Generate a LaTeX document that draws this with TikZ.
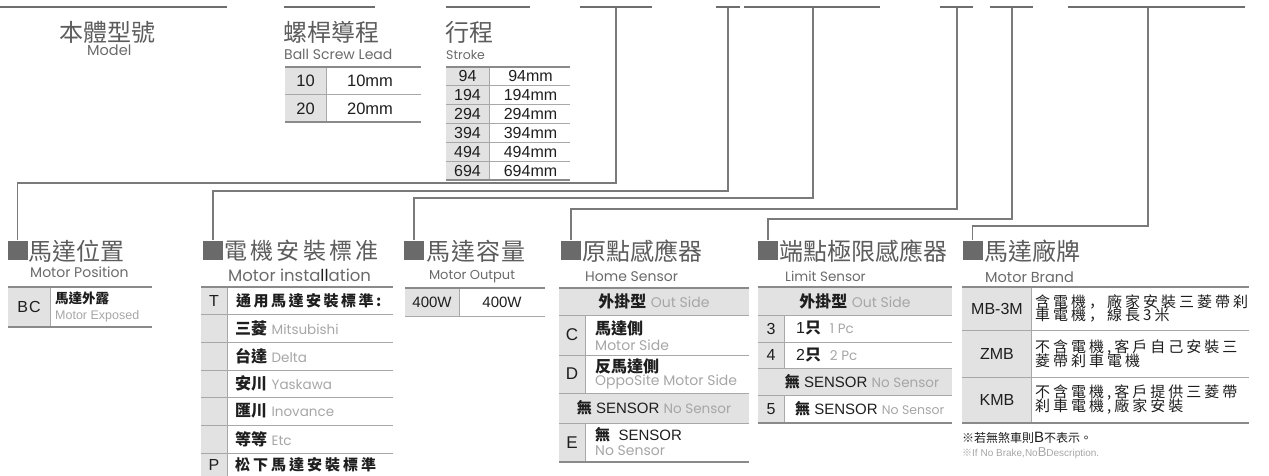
\documentclass[tikz,border=0pt]{standalone}
\usepackage{fontspec}
\setmainfont{Liberation Sans}
\newfontfamily\cjk{Noto Sans CJK TC}
\newfontfamily\cjksc{Noto Sans CJK SC}
\newfontfamily\eng{Poppins}
\definecolor{segc}{HTML}{6E6E6E}
\definecolor{connc}{HTML}{7A7A7A}
\definecolor{markc}{HTML}{6A6A6A}
\definecolor{ttlc}{HTML}{5C5C5C}
\definecolor{subc}{HTML}{6A6A6A}
\definecolor{cellc}{HTML}{E2E2E2}
\definecolor{tlc}{HTML}{8A8A8A}
\definecolor{rlc}{HTML}{A8A8A8}
\definecolor{txc}{HTML}{1E1E1E}
\definecolor{lgc}{HTML}{A6A6A6}
\newcommand\fs[1]{\fontsize{#1}{#1}\selectfont}
\newcommand\zh[1]{{\cjk\bfseries #1}}
\newcommand\lt[1]{{\eng\color{lgc}#1}}
\newcommand\cm{{\cjksc ，}}
\newdimen\lsp
\def\spc#1#2{{\lsp=#1pt\spcx#2\relax}}
\def\spcx#1{\ifx#1\relax\else#1\kern\lsp\expandafter\spcx\fi}
\begin{document}
\begin{tikzpicture}[x=1pt,y=-1pt,
 seg/.style={line width=2.4pt,draw=segc},
 conn/.style={line width=1.1pt,draw=connc},
 markbox/.style={fill=markc,minimum width=20pt,minimum height=19pt,inner sep=0},
 ttl/.style={anchor=west,inner sep=0,text=ttlc,font=\cjk\fs{24}},
 sub/.style={anchor=west,inner sep=0,text=subc,font=\eng\fs{14}},
 tl/.style={line width=2pt,draw=tlc},
 rl/.style={line width=1pt,draw=rlc},
 tx/.style={inner sep=0,text=txc},
 txw/.style={inner sep=0,text=txc,anchor=west},
]
\useasboundingbox (0,0) rectangle (1269,476);

% ---------- top segments ----------
\draw[seg] (0,7) -- (227,7);
\draw[seg] (284,7) -- (375,7);
\draw[seg] (446,7) -- (530,7);
\draw[seg] (580,7) -- (652,7);
\draw[seg] (716,7) -- (740,7);
\draw[seg] (744,7) -- (880,7);
\draw[seg] (940,7) -- (973,7);
\draw[seg] (990,7) -- (1033,7);
\draw[seg] (1068,7) -- (1245,7);

\coordinate (c1) at (616,8);
\coordinate (c2) at (728,8);
\coordinate (c3) at (813,8);
\coordinate (c4) at (957,8);
\coordinate (c5) at (1012,8);
\coordinate (c6) at (1148,8);
\coordinate (j1) at (616,183);
\coordinate (j2) at (728,191);
\coordinate (j3) at (813,198);
\coordinate (j4) at (957,209);
\coordinate (j5) at (1012,219);
\coordinate (j6) at (1148,226);

% ---------- top titles ----------
\node[inner sep=0,text=ttlc,font=\cjk\fs{24}] (tModel) at (107.5,32) {本體型號};
\node[sub,font=\eng\fs{14.5}] (sModel) at (87,50) {Model};
\node[ttl] (tLead) at (283,32) {螺桿導程};
\node[sub] (sLead) at (284,54) {Ball Screw Lead};
\node[ttl] (tStroke) at (445,32) {行程};
\node[sub,font=\eng\fs{12.5}] (sStroke) at (446,55) {Stroke};

% lead table
\fill[cellc] (285,67) rectangle (326,122);
\draw[rl] (326,67) -- (326,122);
\draw[rl] (285,95) -- (421,95);
\draw[tl] (285,67) -- (421,67);
\draw[tl] (285,122) -- (421,122);
\node[tx,font=\fs{16.5}] (l1a) at (305.5,81) {10};
\node[tx,font=\fs{16.5}] (l1b) at (370,81) {10mm};
\node[tx,font=\fs{16.5}] (l2a) at (305.5,108.5) {20};
\node[tx,font=\fs{16.5}] (l2b) at (370,108.5) {20mm};

% stroke table
\fill[cellc] (446,67) rectangle (489,180);
\draw[rl] (489,67) -- (489,180);
\foreach \k in {1,...,5}{\draw[rl] (446,67+18.83*\k) -- (570,67+18.83*\k);}
\draw[tl] (446,67) -- (570,67);
\draw[tl] (446,180) -- (570,180);
\foreach \v [count=\k from 0] in {94,194,294,394,494,694}{
  \node[tx,font=\fs{16}] (sa\v) at (467.5,76.4+18.83*\k) {\v};
  \node[tx,font=\fs{16}] (sb\v) at (530.5,76.4+18.83*\k) {\v mm};
}

% ---------- section markers and titles ----------
\node[markbox] (m1) at (17.5,250) {};
\node[ttl] (t1) at (28.5,251) {馬達位置};
\node[sub] (s1) at (30,272) {Motor Position};

\node[markbox] (m2) at (213,250) {};
\node[ttl,font=\cjk\fs{23}] (t2) at (224,251) {\spc{3.3}{電機安裝標准}};
\node[sub,font=\eng\fs{16.5}] (s2) at (228,275) {Motor insta{\color{txc}ll}ation};

\node[markbox] (m3) at (414,250) {};
\node[ttl] (t3) at (426,251) {\spc{1.2}{馬達容量}};
\node[inner sep=0,text=subc,font=\eng\fs{13}] (s3) at (472,277) {Motor Output};

\node[markbox] (m4) at (571,250) {};
\node[ttl] (t4) at (582,251) {原點感應器};
\node[sub] (s4) at (585,277) {Home Sensor};

\node[markbox] (m5) at (768,250) {};
\node[ttl] (t5) at (779,251) {端點極限感應器};
\node[sub,font=\eng\fs{13.5}] (s5) at (785,276) {Limit Sensor};

\node[markbox] (m6) at (972.5,250) {};
\node[ttl] (t6) at (984,251) {馬達廠牌};
\node[sub,font=\eng\fs{14.5}] (s6) at (985,277) {Motor Brand};

% ---------- connectors ----------
\draw[conn] (c1) -- (j1) -| (m1.north);
\draw[conn] (c2) -- (j2) -| (m2.north);
\draw[conn] (c3) -- (j3) -| (m3.north);
\draw[conn] (c4) -- (j4) -| (m4.north);
\draw[conn] (c5) -- (j5) -| (m5.north);
\draw[conn] (c6) -- (j6) -| (m6.north);

% ---------- motor position table ----------
\fill[cellc] (8,287) rectangle (50,327);
\draw[rl] (50,287) -- (50,327);
\draw[tl] (8,287) -- (152,287);
\draw[tl] (8,327) -- (152,327);
\node[tx,font=\fs{16}] (bc) at (29,307) {B\kern1ptC};
\node[txw,font=\fs{13.5}] (bcz) at (55,298) {\zh{馬達外露}};
\node[txw,font=\fs{12.5},text=lgc] (bce) at (55,316) {Motor Exposed};

% ---------- motor installation table ----------
\fill[cellc] (201,287) rectangle (227,476);
\draw[rl] (227,287) -- (227,476);
\draw[tl] (201,287) -- (393,287);
\foreach \yy in {314,342,370,397,425,453}{\draw[rl] (201,\yy) -- (393,\yy);}
\node[tx,font=\fs{16}] (iT) at (214,301) {T};
\node[txw,font=\fs{15}] (iTz) at (236,301) {\zh{\spc{2.5}{通用馬達安裝標準:}}};
\node[txw,font=\fs{16}] (i1) at (235,328) {\zh{三菱} \lt{\fs{13.5}Mitsubishi}};
\node[txw,font=\fs{16}] (i2) at (235,356) {\zh{台達} \lt{\fs{13.5}Delta}};
\node[txw,font=\fs{16}] (i3) at (235,383.5) {\zh{安川} \lt{\fs{13.5}Yaskawa}};
\node[txw,font=\fs{16}] (i4) at (235,411) {\zh{匯川} \lt{\fs{13.5}Inovance}};
\node[txw,font=\fs{16}] (i5) at (235,439) {\zh{等等} \lt{\fs{13.5}Etc}};
\node[tx,font=\fs{16}] (iP) at (214,465) {P};
\node[txw,font=\fs{15}] (iPz) at (235,465) {\zh{\spc{3}{松下馬達安裝標準}}};

% ---------- motor output table ----------
\fill[cellc] (405,288) rectangle (459,316);
\draw[rl] (459,288) -- (459,316);
\draw[tl] (405,288) -- (545,288);
\draw[rl] (405,316) -- (545,316);
\node[tx,font=\fs{15}] (oa) at (432,302) {400W};
\node[tx,font=\fs{15}] (ob) at (502,302) {400W};

% ---------- home sensor table ----------
\fill[cellc] (559,288) rectangle (749,315);
\fill[cellc] (559,315) rectangle (585,393);
\fill[cellc] (559,393) rectangle (749,423);
\fill[cellc] (559,423) rectangle (585,462);
\draw[rl] (585,315) -- (585,393);
\draw[rl] (585,423) -- (585,462);
\draw[tl] (559,288) -- (749,288);
\foreach \yy in {315,355,393,423}{\draw[rl] (559,\yy) -- (749,\yy);}
\draw[tl] (559,462) -- (749,462);
\node[tx,font=\fs{16}] (hh) at (654,301) {\zh{外掛型} \lt{\fs{14}Out Side}};
\node[tx,font=\fs{17}] (hC) at (572,335) {C};
\node[txw,font=\fs{16}] (hCz) at (595,328) {\zh{馬達側}};
\node[txw] (hCe) at (595,345) {\lt{\fs{14}Motor Side}};
\node[tx,font=\fs{17}] (hD) at (572,374) {D};
\node[txw,font=\fs{16}] (hDz) at (595,366) {\zh{反馬達側}};
\node[txw] (hDe) at (595,382) {\lt{\fs{14}OppoSite Motor Side}};
\node[tx,font=\fs{15}] (hN) at (654,408) {\zh{無} SENSOR \lt{\fs{13.5}No Sensor}};
\node[tx,font=\fs{17}] (hE) at (572,443) {E};
\node[txw,font=\fs{15}] (hEz) at (595,435) {\zh{無}\ \ SENSOR};
\node[txw] (hEe) at (595,451) {\lt{\fs{14}No Sensor}};

% ---------- limit sensor table ----------
\fill[cellc] (758,287) rectangle (952,315);
\fill[cellc] (758,315) rectangle (784,368);
\fill[cellc] (758,368) rectangle (952,395);
\fill[cellc] (758,395) rectangle (784,423);
\draw[rl] (784,315) -- (784,368);
\draw[rl] (784,395) -- (784,423);
\draw[tl] (758,287) -- (952,287);
\foreach \yy in {315,342,368,395}{\draw[rl] (758,\yy) -- (952,\yy);}
\draw[tl] (758,423) -- (952,423);
\node[tx,font=\fs{16}] (lh) at (855,301) {\zh{外掛型} \lt{\fs{14}Out Side}};
\node[tx,font=\fs{16}] (l3) at (771,328.5) {3};
\node[txw,font=\fs{16}] (l3z) at (796,328.5) {1\zh{只}\ \ \lt{\fs{13.5}1 Pc}};
\node[tx,font=\fs{16}] (l4) at (771,355) {4};
\node[txw,font=\fs{16}] (l4z) at (796,355) {2\zh{只}\ \ \lt{\fs{13.5}2 Pc}};
\node[tx,font=\fs{15}] (lN) at (862,381.5) {\zh{無} SENSOR \lt{\fs{13.5}No Sensor}};
\node[tx,font=\fs{16}] (l5) at (771,409) {5};
\node[txw,font=\fs{15}] (l5z) at (795,409) {\zh{無} SENSOR \lt{\fs{12.5}No Sensor}};

% ---------- motor brand table ----------
\fill[cellc] (962,287) rectangle (1031,423);
\draw[rl] (1031,287) -- (1031,423);
\draw[tl] (962,287) -- (1249,287);
\draw[rl] (962,330) -- (1249,330);
\draw[rl] (962,377) -- (1249,377);
\draw[tl] (962,423) -- (1249,423);
\node[tx,font=\fs{16}] (b1) at (997,309) {MB-3M};
\node[tx,font=\fs{16}] (b2) at (997,353.5) {ZMB};
\node[tx,font=\fs{16}] (b3) at (997,400) {KMB};
\node[txw,align=left,font=\cjk\fs{15}] (b1z) at (1035,308.5) {\spc{3}{含電機}\cm\kern3pt\spc{3}{廠家安裝三菱帶刹}\\[-2pt]\spc{3}{車電機}\cm\kern3pt\spc{3}{線長3米}};
\node[txw,align=left,font=\cjk\fs{15}] (b2z) at (1035,353.5) {\spc{3}{不含電機,客戶自己安裝三}\\[-2pt]\spc{3}{菱帶刹車電機}};
\node[txw,align=left,font=\cjk\fs{15}] (b3z) at (1035,399.5) {\spc{3}{不含電機,客戶提供三菱帶}\\[-2pt]\spc{3}{刹車電機,廠家安裝}};

\node[txw,font=\cjk\fs{12}] (n1) at (962,438) {※若無煞車則{\rmfamily\fs{15}B}不表示。};
\node[txw,font=\fs{10},text=lgc] (n2) at (962,453) {{\cjk ※}If No Brake,No{\fs{13}B}Description.};
\end{tikzpicture}
\end{document}
